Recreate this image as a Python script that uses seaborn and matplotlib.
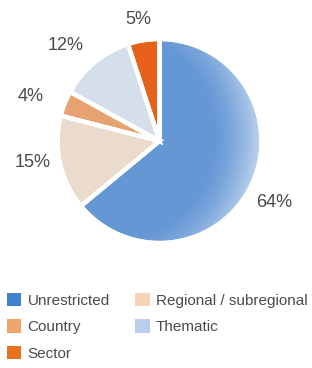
import matplotlib
matplotlib.use("Agg")
import matplotlib.pyplot as plt
import numpy as np
import seaborn as sns
from matplotlib.patches import Patch, Circle

# Funding shares by type
categories = ["Unrestricted", "Regional / subregional", "Country", "Thematic", "Sector"]
shares = [64, 15, 4, 12, 5]
pie_colors = ["#6597d5", "#eadbcd", "#e6a270", "#d4dfeb", "#e6621a"]
legend_colors = ["#4182cf", "#f8d3b8", "#efa56c", "#b9cdec", "#e8701e"]
# percentage label placement: distance from centre, angle tweak (deg)
label_dist = [1.28, 1.26, 1.34, 1.31, 1.21]
label_turn = [-3, -3, 2.6, 5, 1]

sns.set_style("white")
plt.rcParams['font.family'] = ['Liberation Sans', 'DejaVu Sans']

fig = plt.figure(figsize=(3.12, 3.68), dpi=100)
ax = fig.add_axes([55.5 / 312, 1 - 245 / 368, 208 / 312, 208 / 368])

wedges, texts, autotexts = ax.pie(
    shares, colors=pie_colors, startangle=90, counterclock=False,
    autopct=lambda p: f"{p:.0f}%", pctdistance=1.28,
    wedgeprops=dict(edgecolor="white", linewidth=3),
    textprops=dict(color="#4a4a4a", fontsize=13),
)
for w, t, d, turn in zip(wedges, autotexts, label_dist, label_turn):
    ang = np.deg2rad((w.theta1 + w.theta2) / 2 + turn)
    t.set_position((d * np.cos(ang), d * np.sin(ang)))

# soft glossy shading towards the right rim
yy, xx = np.mgrid[-1:1:300j, -1:1:300j]
rr = np.hypot(xx + 0.35, (yy - 0.05) * 0.9)
shade = np.zeros((300, 300, 4))
shade[..., :3] = 1.0
shade[..., 3] = np.clip((rr - 0.85) / 0.5, 0, 1) ** 1.5 * 0.6
im = ax.imshow(shade, extent=(-1, 1, -1, 1), origin="lower", zorder=1.5)
im.set_clip_path(Circle((0, 0), 1.0, transform=ax.transData))
for w in wedges:
    w.set_zorder(1)
edges = ax.pie(shares, colors=["none"] * 5, startangle=90, counterclock=False,
               wedgeprops=dict(edgecolor="white", linewidth=3))[0]
for w in edges:
    w.set_zorder(2)

ax.set_xlim(-1.02, 1.02)
ax.set_ylim(-1.02, 1.02)
ax.set_aspect("equal")

# legend: two columns, filled column-first
order = [0, 2, 4, 1, 3]
handles = [Patch(facecolor=legend_colors[i], edgecolor="none") for i in order]
labels = [categories[i] for i in order]
fig.legend(handles, labels, ncol=2, loc="upper left", bbox_to_anchor=(-0.012, 1 - 282 / 368),
           frameon=False, fontsize=11, handlelength=0.95, handleheight=1.0,
           handletextpad=0.4, columnspacing=1.65, labelspacing=0.75,
           labelcolor="#4a4a4a", borderaxespad=0.3)

fig.savefig("out.png", dpi=100)
